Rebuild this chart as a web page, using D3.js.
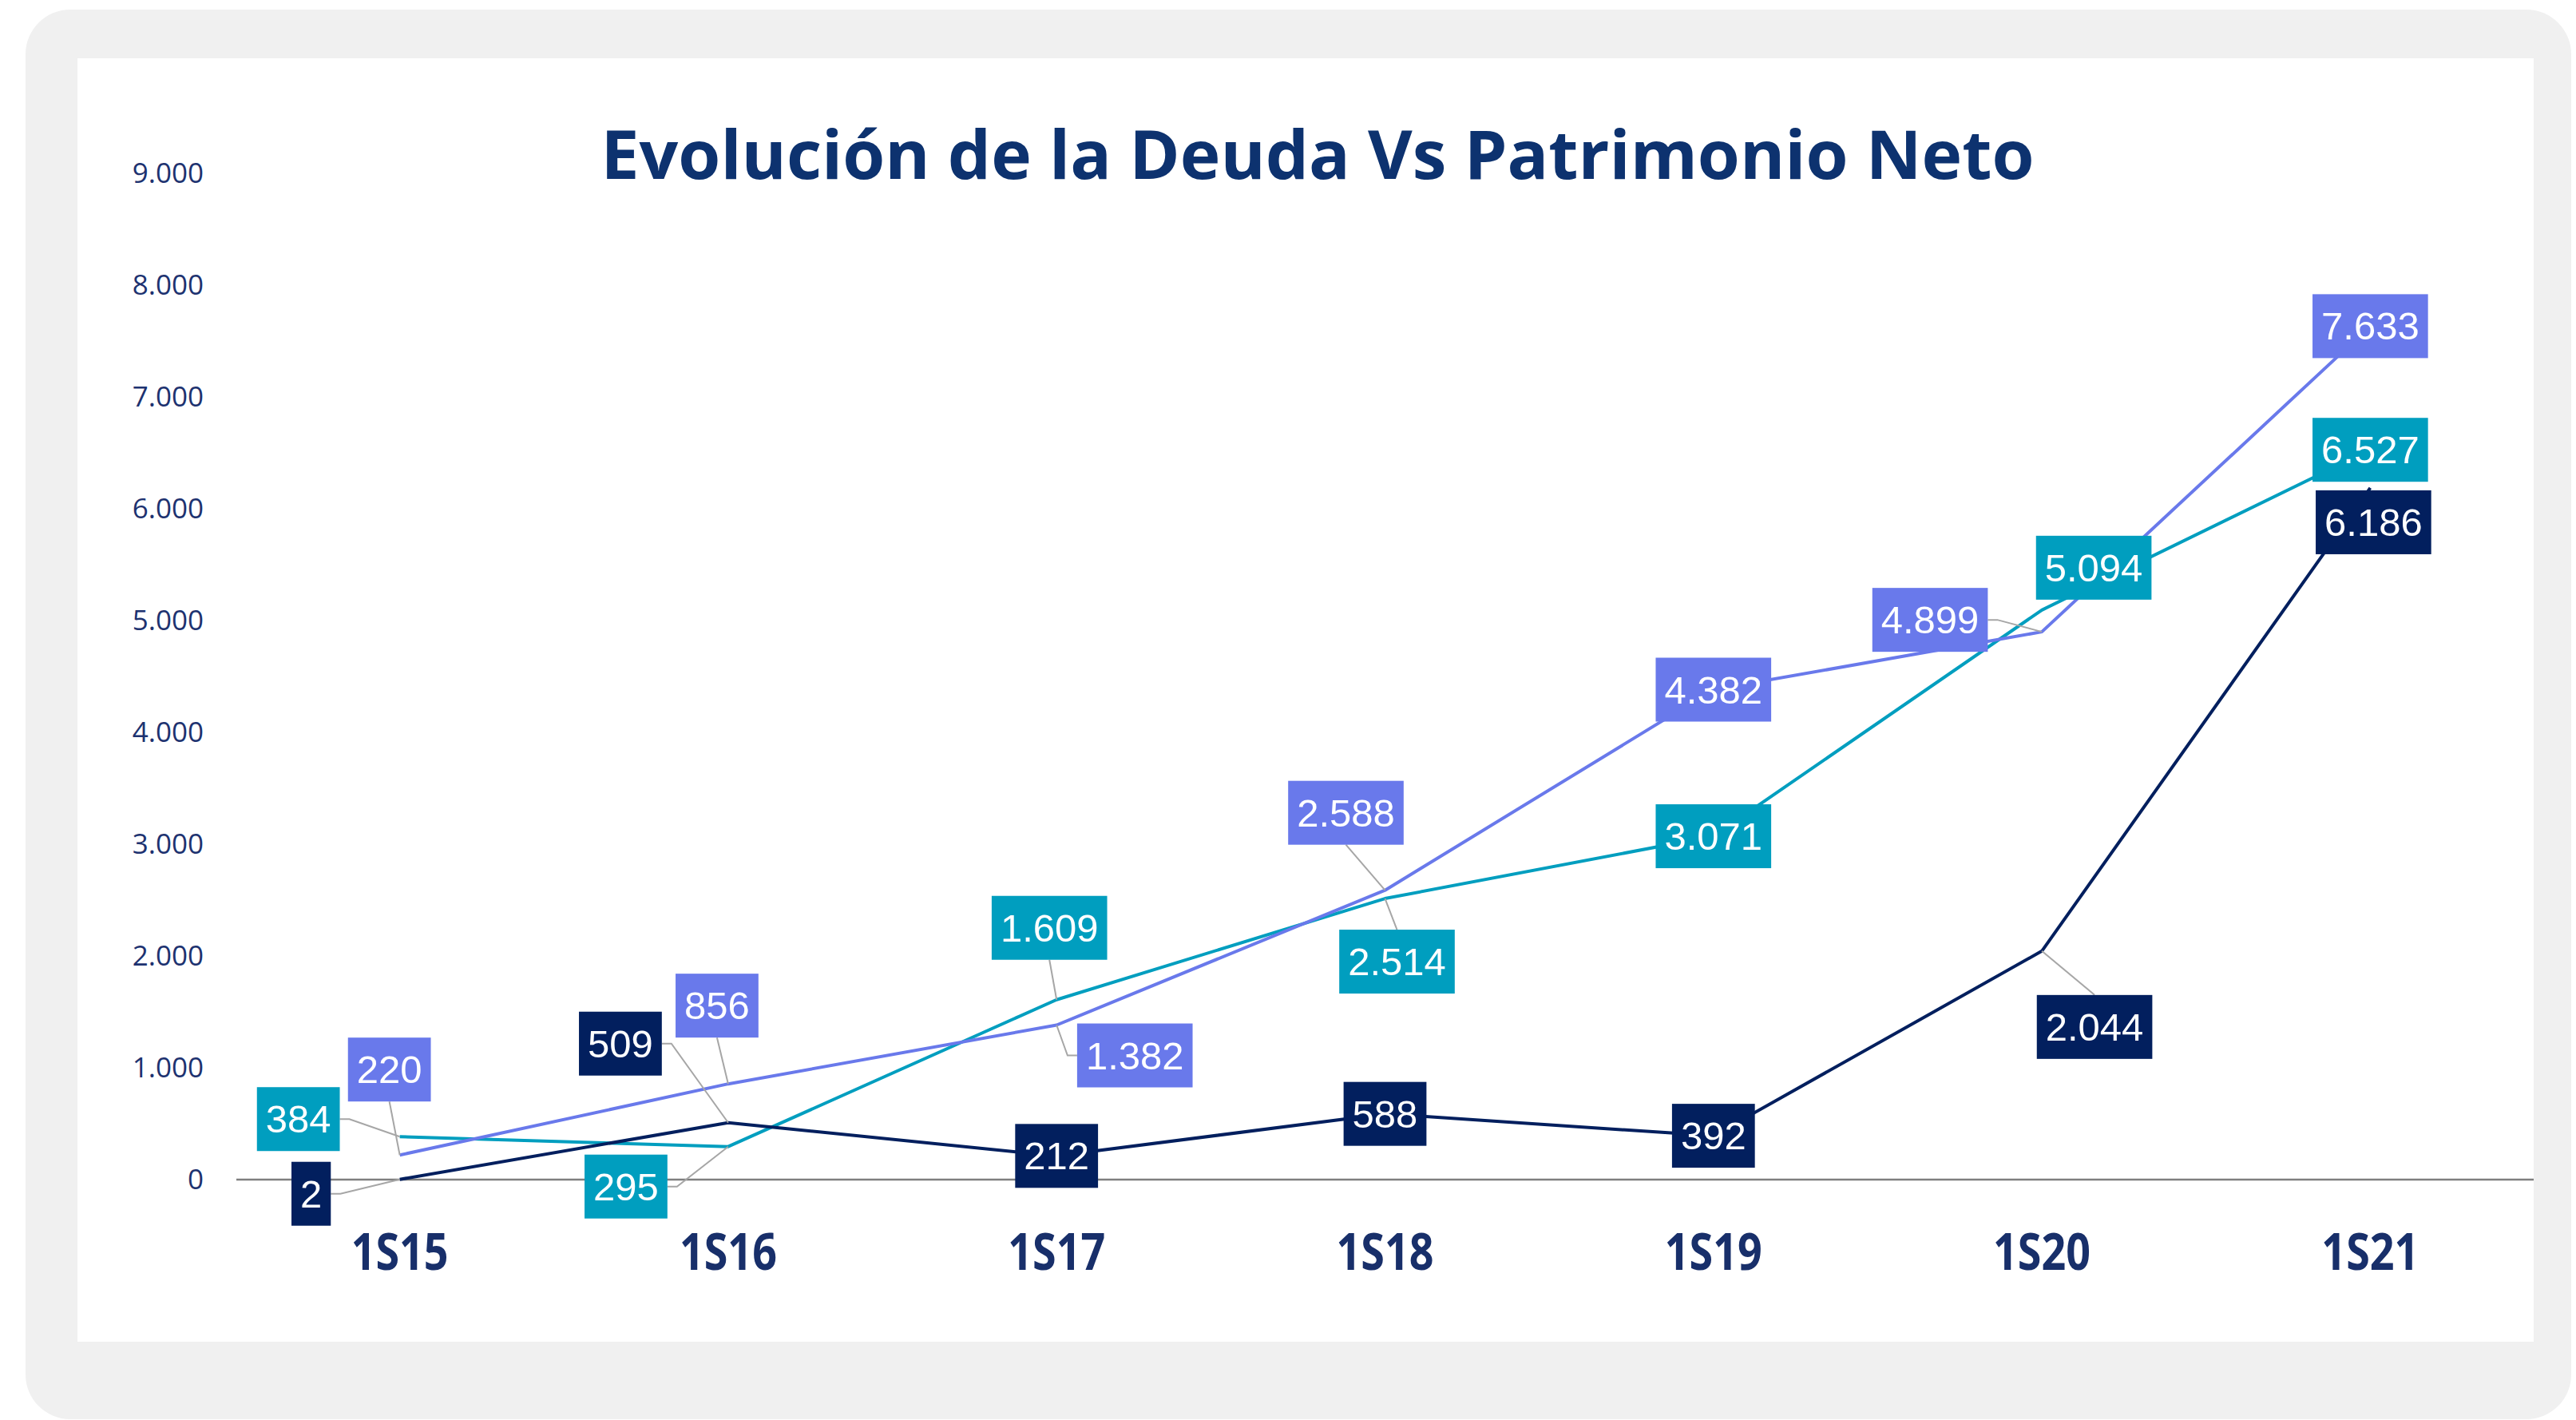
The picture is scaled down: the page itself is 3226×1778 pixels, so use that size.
<!DOCTYPE html>
<html>
<head>
<meta charset="utf-8">
<script src="https://cdn.jsdelivr.net/npm/d3@7"></script>
<style>
  html, body { margin: 0; padding: 0; background: #fff; }
</style>
</head>
<body>
<div id="chart"></div>
<script>
const categories = ["1S15", "1S16", "1S17", "1S18", "1S19", "1S20", "1S21"];
const deudaNeta = [2, 509, 212, 588, 392, 2044, 6186];
const deudaTotal = [384, 295, 1609, 2514, 3071, 5094, 6527];
const patrimonioNeto = [220, 856, 1382, 2588, 4382, 4899, 7633];
const yTicks = [0, 1000, 2000, 3000, 4000, 5000, 6000, 7000, 8000, 9000];

// where each value box sits relative to its point (layout only, px)
const offsetsNeta = [[-111, 18], [-135, -99], [0, 0], [0, 0], [0, 0], [66, 95], [4, 43]];
const offsetsTotal = [[-127, -22], [-128, 50], [-9, -90], [15, 79], [0, 0], [65, -53], [0, 0]];
const offsetsPatrimonio = [[-13, -107], [-14, -98], [98, 38], [-49, -97], [0, 0], [-140, -15], [0, 0]];

const width = 3226,
      height = 1778;

const navy = "#021f5e",
      teal = "#009ebf",
      violet = "#6979eb";

const locale = d3.formatLocale({decimal: ",", thousands: ".", grouping: [3], currency: ["", ""]});
const fmt = locale.format(",d");

const svg = d3.select("#chart")
            .append("svg")
            .attr("width", width)
            .attr("height", height);

// card background
svg.append("rect")
   .attr("x", 32).attr("y", 12)
   .attr("width", 3188).attr("height", 1765)
   .attr("rx", 56).attr("ry", 56)
   .attr("fill", "#f0f0f0");

svg.append("rect")
   .attr("x", 97).attr("y", 73)
   .attr("width", 3076).attr("height", 1607)
   .attr("fill", "#fff");

// title
svg.append("text")
   .attr("x", 1650).attr("y", 224)
   .attr("text-anchor", "middle")
   .attr("textLength", 1795)
   .attr("lengthAdjust", "spacingAndGlyphs")
   .style("font-family", "'Open Sans', sans-serif")
   .style("font-weight", 700)
   .style("font-size", "84px")
   .style("fill", "#0d326f")
   .text("Evolución de la Deuda Vs Patrimonio Neto");

const x = d3.scaleBand()
            .domain(categories)
            .range([295, 3174]);

const y = d3.scaleLinear()
            .domain([0, 9000])
            .range([1477, 217]);

const cx = c => x(c) + x.bandwidth() / 2;

// y axis labels
const yAxis = svg.append("g")
   .attr("transform", "translate(265,0)")
   .call(d3.axisLeft(y).tickValues(yTicks).tickSize(0).tickPadding(10).tickFormat(fmt));
yAxis.select(".domain").remove();
yAxis.selectAll("text")
     .style("font-family", "'Open Sans', sans-serif")
     .style("font-size", "35px")
     .style("fill", "#1d3270");

// zero line
svg.append("line")
   .attr("x1", 296).attr("x2", 3173)
   .attr("y1", y(0)).attr("y2", y(0))
   .attr("stroke", "#7f7f7f")
   .attr("stroke-width", 2.5);

// x axis labels
const xAxis = svg.append("g")
   .attr("transform", `translate(0,${y(0)})`)
   .call(d3.axisBottom(x).tickSize(0));
xAxis.select(".domain").remove();
xAxis.selectAll("text")
     .attr("y", 113).attr("dy", 0)
     .attr("textLength", 122)
     .attr("lengthAdjust", "spacingAndGlyphs")
     .style("font-family", "'Open Sans', sans-serif")
     .style("font-weight", 700)
     .style("font-size", "64px")
     .style("fill", "#182f6a");

const series = [
  {values: deudaTotal, color: teal, offsets: offsetsTotal},
  {values: patrimonioNeto, color: violet, offsets: offsetsPatrimonio},
  {values: deudaNeta, color: navy, offsets: offsetsNeta}
];

const line = d3.line()
               .x((d, i) => cx(categories[i]))
               .y(d => y(d));

//lines
svg.selectAll("seriesLines")
   .data(series)
   .join("path")
   .attr("d", s => line(s.values))
   .attr("fill", "none")
   .attr("stroke", s => s.color)
   .attr("stroke-width", 4)
   .attr("stroke-linejoin", "round");

// labels: measure text first, then place box + leader
const boxH = 80, pad = 11;

function leader(px, py, bx, by, w, h) {
  const hw = w / 2, hh = h / 2;
  if (Math.abs(px - bx) <= hw && Math.abs(py - by) <= hh) return null;
  if (Math.abs(px - bx) > hw) {
    const side = px > bx ? 1 : -1;
    const ex = bx + side * hw;
    return [[ex, by], [ex + side * 12, by], [px, py]];
  }
  const side = py > by ? 1 : -1;
  const ey = by + side * hh;
  if (Math.abs(py - ey) < 16) return null;
  return [[bx, ey], [px, py]];
}

const leaderLayer = svg.append("g");
const labelLayer = svg.append("g");

series.forEach(s => {
  s.values.forEach((v, i) => {
    const px = cx(categories[i]), py = y(v);
    const bx = px + s.offsets[i][0], by = py + s.offsets[i][1];
    const g = labelLayer.append("g");
    const rect = g.append("rect").attr("fill", s.color);
    const t = g.append("text")
               .attr("x", bx).attr("y", by)
               .attr("text-anchor", "middle")
               .attr("dominant-baseline", "central")
               .style("font-family", "'Liberation Sans', Arial, sans-serif")
               .style("font-size", "49px")
               .style("fill", "#fff")
               .text(fmt(v));
    const w = t.node().getComputedTextLength() + pad * 2;
    rect.attr("x", bx - w / 2).attr("y", by - boxH / 2)
        .attr("width", w).attr("height", boxH);
    const pts = leader(px, py, bx, by, w, boxH);
    if (pts) {
      leaderLayer.append("polyline")
                 .attr("points", pts.map(p => p.join(",")).join(" "))
                 .attr("fill", "none")
                 .attr("stroke", "#a6a6a6")
                 .attr("stroke-width", 2);
    }
  });
});
</script>
</body>
</html>
